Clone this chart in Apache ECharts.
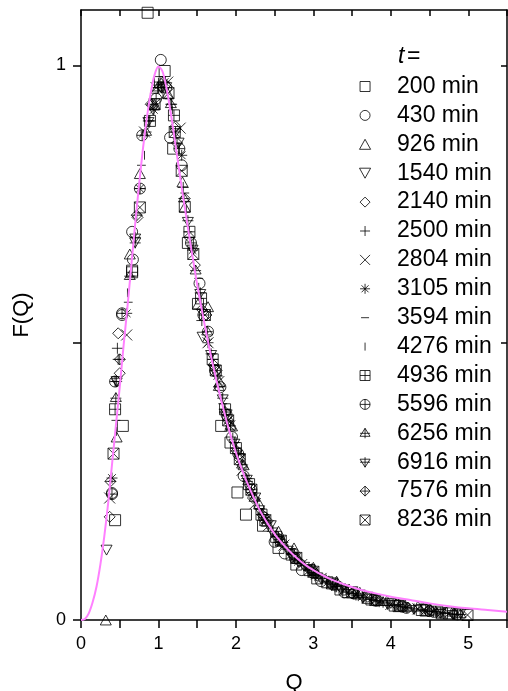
<!DOCTYPE html>
<html>
<head>
<meta charset="utf-8">
<script src="https://cdn.jsdelivr.net/npm/echarts@6/dist/echarts.min.js"></script>
<style>
  html, body { margin: 0; padding: 0; background: #fff; }
  #chart { width: 508px; height: 691px; }
</style>
</head>
<body>
<div id="chart"></div>
<script>
// ---- DATA ----
const timeLabels = ['200 min', '430 min', '926 min', '1540 min', '2140 min', '2500 min', '2804 min', '3105 min',
  '3594 min', '4276 min', '4936 min', '5596 min', '6256 min', '6916 min', '7576 min', '8236 min'];

const xTicks = [0, 1, 2, 3, 4, 5];
const yTicks = [0, 1];

// fitted scaling curve F(Q)
const curveQ = [0, 0.05, 0.1, 0.15, 0.2, 0.25, 0.3, 0.35, 0.4, 0.45, 0.5, 0.55, 0.6, 0.65, 0.7, 0.75, 0.8, 0.85, 0.9, 0.95,
  1.0, 1.05, 1.1, 1.15, 1.2, 1.25, 1.3, 1.35, 1.4, 1.45, 1.5, 1.6, 1.7, 1.8, 1.9, 2.0, 2.1, 2.2, 2.3, 2.4, 2.5,
  2.6, 2.7, 2.8, 2.9, 3.0, 3.2, 3.4, 3.6, 3.8, 4.0, 4.25, 4.5, 4.75, 5.0, 5.25, 5.5];
const curveF = [0, 0.002, 0.012, 0.032, 0.06, 0.1, 0.15, 0.21, 0.28, 0.35, 0.42, 0.495, 0.565, 0.64, 0.715, 0.785, 0.85, 0.905, 0.95, 0.983,
  0.998, 0.99, 0.962, 0.922, 0.876, 0.828, 0.78, 0.735, 0.69, 0.647, 0.605, 0.53, 0.462, 0.402, 0.348, 0.302, 0.263, 0.23, 0.2, 0.176, 0.155,
  0.138, 0.123, 0.11, 0.099, 0.09, 0.075, 0.064, 0.055, 0.048, 0.042, 0.036, 0.03, 0.025, 0.021, 0.018, 0.015];

// measured points [Q, F] per time
const t200 = [[0.44,0.18],[0.54,0.35],[0.66,0.63],[0.86,1.095],[1.08,0.99],[1.19,0.85],[1.34,0.745],[1.38,0.68],[1.51,0.57],
  [1.81,0.35],[1.93,0.32],[2.02,0.23],[2.13,0.19],[2.35,0.17],[2.55,0.13],[2.78,0.1],[3.05,0.075],[3.35,0.055],[3.7,0.04],[4.1,0.025],[4.6,0.015]];
const t430 = [[0.4,0.229],[0.53,0.55],[0.66,0.7],[0.67,0.65],[1.03,1.01],[1.15,0.87],[1.3,0.82],[1.53,0.607],[1.64,0.52],
  [1.8,0.42],[1.95,0.33],[2.1,0.26],[2.5,0.141],[2.63,0.12],[2.85,0.09],[3.1,0.07],[3.4,0.05],[3.8,0.035],[4.2,0.022]];
const t926 = [[0.32,0.0],[0.46,0.33],[0.63,0.66],[0.76,0.805],[0.95,0.93],[1.12,0.95],[1.31,0.79],[1.34,0.745],[1.51,0.57],
  [1.64,0.565],[1.79,0.43],[1.95,0.35],[2.1,0.28],[2.3,0.21],[2.55,0.16],[2.75,0.13],[3.0,0.095],[3.3,0.07],[3.6,0.05],[3.95,0.035],[4.35,0.025],[4.8,0.016]];
const t1540 = [[0.33,0.126],[0.46,0.43],[0.7,0.68],[0.93,0.92],[1.1,0.96],[1.26,0.86],[1.44,0.667],[1.57,0.51],[1.72,0.45],
  [1.88,0.37],[2.05,0.29],[2.25,0.22],[2.45,0.17],[2.7,0.12],[2.95,0.09],[3.25,0.065],[3.6,0.045],[4.0,0.03],[4.45,0.02],[4.9,0.012]];
const t2140 = [[0.37,0.186],[0.5,0.445],[0.48,0.517],[0.73,0.726],[0.9,0.93],[1.05,0.96],[1.22,0.89],[1.34,0.76],[1.47,0.64],
  [1.62,0.55],[1.75,0.45],[1.9,0.36],[2.05,0.29],[2.22,0.22],[2.4,0.18],[2.6,0.14],[2.82,0.105],[3.05,0.08],[3.35,0.06],[3.7,0.042],[4.05,0.03],[4.5,0.018]];
const t2500 = [[0.47,0.49],[0.48,0.47],[0.7,0.68],[0.88,0.9],[1.0,0.96],[1.17,0.93],[1.32,0.78],[1.56,0.54],[1.7,0.47],
  [1.85,0.38],[2.0,0.31],[2.15,0.25],[2.35,0.19],[2.55,0.15],[2.75,0.12],[2.98,0.092],[3.2,0.07],[3.45,0.055],[3.75,0.04],[4.1,0.028],[4.45,0.018],[4.7,0.013]];
const t2804 = [[0.37,0.22],[0.59,0.514],[0.82,0.88],[0.97,0.96],[1.12,0.97],[1.28,0.887],[1.64,0.5],[1.78,0.43],[1.92,0.35],
  [2.08,0.27],[2.25,0.21],[2.42,0.17],[2.62,0.135],[2.85,0.1],[3.1,0.075],[3.4,0.055],[3.7,0.04],[4.0,0.028],[4.35,0.02],[4.65,0.013]];
const t3105 = [[0.4,0.256],[0.59,0.553],[0.76,0.778],[0.94,0.92],[1.08,0.97],[1.3,0.838],[1.44,0.667],[1.64,0.5],[1.76,0.44],
  [1.9,0.36],[2.03,0.3],[2.2,0.23],[2.38,0.18],[2.58,0.14],[2.8,0.105],[3.02,0.08],[3.28,0.06],[3.55,0.045],[3.85,0.033],[4.2,0.022],[4.55,0.015]];
const t3594 = [[0.45,0.36],[0.61,0.573],[0.78,0.82],[0.96,0.95],[1.14,0.94],[1.34,0.77],[1.38,0.7],[1.52,0.616],[1.68,0.48],
  [1.83,0.39],[1.98,0.32],[2.12,0.26],[2.3,0.2],[2.5,0.155],[2.7,0.12],[2.92,0.092],[3.15,0.07],[3.42,0.052],[3.72,0.038],[4.05,0.027],[4.4,0.018],[4.75,0.012]];
const t4276 = [[0.46,0.34],[0.6,0.59],[0.82,0.838],[1.0,0.97],[1.18,0.92],[1.36,0.74],[1.52,0.6],[1.66,0.5],[1.82,0.4],
  [1.96,0.33],[2.12,0.26],[2.28,0.21],[2.48,0.16],[2.68,0.125],[2.9,0.095],[3.12,0.072],[3.38,0.055],[3.65,0.04],[3.95,0.03],[4.3,0.02],[4.6,0.014]];
const t4936 = [[0.44,0.38],[0.66,0.627],[0.89,0.9],[1.02,0.97],[1.2,0.91],[1.4,0.7],[1.55,0.58],[1.7,0.47],[1.86,0.38],
  [2.0,0.31],[2.17,0.245],[2.33,0.19],[2.52,0.15],[2.72,0.118],[2.95,0.09],[3.18,0.068],[3.45,0.05],[3.75,0.037],[4.05,0.026],[4.4,0.018],[4.66,0.012]];
const t5596 = [[0.4,0.227],[0.44,0.43],[0.53,0.553],[0.76,0.778],[0.79,0.874],[0.97,0.94],[1.1,0.96],[1.27,0.85],[1.42,0.68],
  [1.58,0.55],[1.73,0.45],[1.88,0.37],[2.03,0.3],[2.2,0.235],[2.36,0.185],[2.56,0.145],[2.76,0.112],[3.0,0.085],[3.25,0.064],
  [3.52,0.048],[3.82,0.035],[4.15,0.024],[4.5,0.016],[4.86,0.01]];
const t6256 = [[0.45,0.4],[0.63,0.62],[0.84,0.88],[0.99,0.96],[1.16,0.93],[1.33,0.76],[1.48,0.63],[1.63,0.52],[1.78,0.42],
  [1.93,0.35],[2.08,0.28],[2.24,0.22],[2.4,0.175],[2.6,0.14],[2.8,0.108],[3.03,0.082],[3.3,0.06],[3.58,0.044],[3.9,0.032],[4.22,0.022],[4.58,0.015],[4.9,0.01]];
const t6916 = [[0.46,0.43],[0.7,0.69],[0.87,0.9],[1.04,0.96],[1.22,0.88],[1.38,0.72],[1.54,0.59],[1.68,0.48],[1.83,0.4],
  [1.98,0.32],[2.14,0.255],[2.3,0.2],[2.47,0.16],[2.67,0.127],[2.88,0.098],[3.1,0.075],[3.36,0.056],[3.64,0.041],[3.96,0.029],[4.3,0.02],[4.64,0.013],[4.8,0.011]];
const t7576 = [[0.38,0.25],[0.5,0.47],[0.72,0.73],[0.92,0.93],[1.06,0.97],[1.24,0.86],[1.4,0.69],[1.56,0.56],[1.71,0.46],
  [1.86,0.375],[2.01,0.305],[2.16,0.245],[2.34,0.19],[2.53,0.15],[2.73,0.118],[2.96,0.09],[3.22,0.066],[3.5,0.048],[3.8,0.035],[4.12,0.025],[4.48,0.016],[4.82,0.01]];
const t8236 = [[0.42,0.3],[0.76,0.744],[0.95,0.93],[1.13,0.95],[1.21,0.88],[1.3,0.81],[1.45,0.66],[1.6,0.55],[1.74,0.45],
  [1.9,0.36],[2.05,0.29],[2.2,0.235],[2.38,0.18],[2.58,0.143],[2.78,0.112],[3.0,0.087],[3.24,0.066],[3.5,0.05],[3.8,0.036],
  [4.12,0.026],[4.45,0.017],[4.75,0.012],[4.99,0.009]];

const seriesPoints = [t200, t430, t926, t1540, t2140, t2500, t2804, t3105,
  t3594, t4276, t4936, t5596, t6256, t6916, t7576, t8236];

// ---- MARKER SHAPES (10x10 box, stroked) ----
const markers = [
  'path://M0 0H10V10H0Z',
  'path://M10 5A5 5 0 1 1 0 5A5 5 0 1 1 10 5Z',
  'path://M5 0L10 9L0 9Z',
  'path://M0 0L10 0L5 9Z',
  'path://M5 0L10 5L5 10L0 5Z',
  'path://M5 0V10M0 5H10',
  'path://M0 0L10 10M10 0L0 10',
  'path://M5 0V10M0 5H10M1.5 1.5L8.5 8.5M8.5 1.5L1.5 8.5',
  'path://M0 0M10 10M1 5H9',
  'path://M0 0M10 10M5 1V9',
  'path://M0 0H10V10H0ZM5 0V10M0 5H10',
  'path://M10 5A5 5 0 1 1 0 5A5 5 0 1 1 10 5ZM5 0V10M0 5H10',
  'path://M5 0L10 8L0 8ZM5 0V10M0 5H10',
  'path://M0 2L10 2L5 10ZM5 0V10M0 5H10',
  'path://M5 0L10 5L5 10L0 5ZM5 0V10M0 5H10',
  'path://M0 0H10V10H0ZM0 0L10 10M10 0L0 10'
];

const FONT = '"Liberation Sans", Arial, sans-serif';

// ---- CHART ----
const chart = echarts.init(document.getElementById('chart'), null, { renderer: 'canvas' });

const scatterSeries = timeLabels.map((name, i) => ({
  type: 'scatter',
  name: name,
  data: seriesPoints[i],
  symbol: markers[i],
  symbolSize: 11,
  symbolKeepAspect: true,
  itemStyle: { color: 'rgba(0,0,0,0)', borderColor: '#000', borderWidth: 1 },
  emphasis: { disabled: true },
  z: 2
}));

const axisLineStyle = { color: '#000', width: 1.5 };

chart.setOption({
  animation: false,
  backgroundColor: '#fff',
  grid: { left: 81, right: 1, top: 10, bottom: 71, containLabel: false, outerBoundsMode: 'none' },
  xAxis: [
    {
      type: 'value', position: 'bottom', min: 0, max: 5.5, interval: 0.5,
      axisLine: { show: true, onZero: false, lineStyle: axisLineStyle },
      axisTick: { show: true, inside: false, length: 8, lineStyle: axisLineStyle },
      axisLabel: {
        color: '#000', fontSize: 18, fontFamily: FONT, margin: 15,
        formatter: v => (xTicks.indexOf(v) >= 0 ? String(v) : '')
      },
      splitLine: { show: false },
      name: 'Q', nameLocation: 'middle', nameGap: 52,
      nameTextStyle: { color: '#000', fontSize: 22, fontFamily: FONT }
    },
    {
      type: 'value', position: 'top', min: 0, max: 5.5, interval: 0.5,
      axisLine: { show: true, onZero: false, lineStyle: axisLineStyle },
      axisTick: { show: true, inside: true, length: 6, lineStyle: axisLineStyle },
      axisLabel: { show: false },
      splitLine: { show: false }
    }
  ],
  yAxis: [
    {
      type: 'value', position: 'left', min: 0, max: 1.1, interval: 0.5,
      axisLine: { show: true, onZero: false, lineStyle: axisLineStyle },
      axisTick: { show: true, inside: false, length: 8, lineStyle: axisLineStyle, customValues: [0, 0.5, 1] },
      axisLabel: {
        color: '#000', fontSize: 18, fontFamily: FONT, margin: 15, customValues: yTicks,
        formatter: v => (yTicks.indexOf(v) >= 0 ? String(v) : '')
      },
      splitLine: { show: false },
      name: 'F(Q)', nameLocation: 'middle', nameGap: 48, nameRotate: 90,
      nameTextStyle: { color: '#000', fontSize: 22, fontFamily: FONT }
    },
    {
      type: 'value', position: 'right', min: 0, max: 1.1, interval: 0.5,
      axisLine: { show: true, onZero: false, lineStyle: axisLineStyle },
      axisTick: { show: true, inside: true, length: 6, lineStyle: axisLineStyle, customValues: [0.5, 1] },
      axisLabel: { show: false },
      splitLine: { show: false }
    }
  ],
  legend: {
    orient: 'vertical', left: 359, top: 75, padding: 0,
    itemWidth: 54, itemHeight: 10, itemGap: 5.9,
    selectedMode: false,
    data: timeLabels,
    itemStyle: { color: 'rgba(0,0,0,0)', borderColor: '#000', borderWidth: 1 },
    textStyle: { color: '#000', fontSize: 23, fontFamily: FONT }
  },
  graphic: [
    { type: 'text', x: 398, y: 57, style: { text: 't', fill: '#000', fontSize: 23, fontStyle: 'italic', fontFamily: FONT, verticalAlign: 'middle' } },
    { type: 'text', x: 407, y: 57, style: { text: '=', fill: '#000', fontSize: 23, fontFamily: FONT, verticalAlign: 'middle' } }
  ],
  series: scatterSeries.concat([{
    type: 'line',
    name: 'fit',
    data: curveQ.map((q, i) => [q, curveF[i]]),
    showSymbol: false,
    smooth: 0.3,
    lineStyle: { color: '#ff80ff', width: 2 },
    emphasis: { disabled: true },
    z: 3
  }])
});
</script>
</body>
</html>
